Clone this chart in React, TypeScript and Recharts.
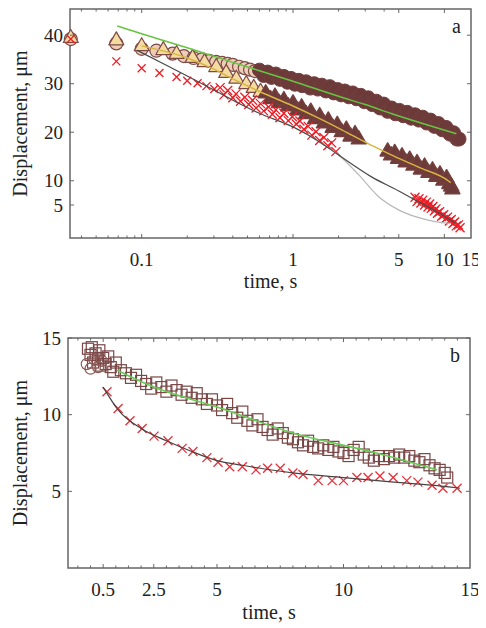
import React from 'react';
import { ComposedChart, Scatter, Line, XAxis, YAxis, ReferenceArea } from 'recharts';

type P = [number, number];
const pts = (a: P[]) => a.map(([t, v]) => ({ t, v }));

const FONT = '"Liberation Serif", "Times New Roman", serif';
const TXT = '#222';
const AX = '#666';

// ---------- panel a (log time axis) ----------
const aXMajor = [0.1, 1, 5, 10, 15];
const aXMinor = [0.04, 0.05, 0.06, 0.07, 0.08, 0.09, 0.2, 0.3, 0.4, 0.5, 0.6, 0.7, 0.8, 0.9, 2, 3, 4];
const aYTicks = [5, 10, 20, 30, 40];

const aCircOpen: P[] = [
  [0.034, 39.2], [0.068, 38.3], [0.1, 37.2], [0.125, 36.8], [0.16, 36.2], [0.19, 35.7], [0.22, 35.3],
  [0.25, 35.0], [0.28, 34.7], [0.31, 34.5], [0.34, 34.3], [0.37, 34.1], [0.4, 33.9], [0.44, 33.5],
  [0.48, 33.2], [0.52, 32.9], [0.56, 32.6],
];
const aCircDense: P[] = [
  [0.6, 32.8], [0.64, 31.7], [0.68, 32.4], [0.72, 31.3], [0.77, 32.0], [0.82, 30.9], [0.87, 31.5],
  [0.92, 30.3], [0.97, 31.1], [1.03, 29.9], [1.09, 30.7], [1.15, 29.6], [1.22, 30.4], [1.3, 29.1],
  [1.38, 30.0], [1.46, 28.9], [1.55, 29.7], [1.65, 28.5], [1.75, 29.4], [1.86, 28.1], [1.97, 28.8],
  [2.08, 27.7], [2.2, 28.5], [2.34, 27.3], [2.48, 28.1], [2.63, 26.9], [2.8, 27.6], [2.96, 26.3],
  [3.14, 27.1], [3.34, 25.7], [3.55, 26.4], [3.76, 25.0], [3.98, 25.8], [4.22, 24.3], [4.48, 25.0],
  [4.75, 23.8], [5.05, 24.5], [5.35, 23.4], [5.68, 24.1], [6.03, 22.9], [6.4, 23.6], [6.79, 22.5],
  [7.2, 23.1], [7.64, 21.9], [8.1, 22.5], [8.6, 21.2], [9.13, 21.8], [9.68, 20.5], [10.27, 21.0],
  [10.9, 19.6], [11.5, 19.9], [12.1, 18.6], [12.5, 18.6],
];
const aTriOpen: P[] = [
  [0.034, 39.4], [0.068, 38.9], [0.1, 37.7], [0.139, 36.9], [0.17, 36.1], [0.217, 35.3], [0.26, 34.4],
  [0.311, 33.4], [0.362, 32.2], [0.422, 31.0], [0.491, 29.9], [0.55, 29.1], [0.61, 28.3],
];
const aTriDense: P[] = [
  [0.66, 28.0], [0.71, 26.8], [0.76, 27.3], [0.81, 26.0], [0.87, 26.6], [0.93, 25.3], [1.0, 25.9],
  [1.07, 24.5], [1.14, 25.1], [1.22, 23.7], [1.31, 24.2], [1.4, 22.7], [1.5, 23.3], [1.6, 21.8],
  [1.71, 22.4], [1.83, 20.9], [1.96, 21.5], [2.1, 20.0], [2.25, 20.5], [2.4, 19.1], [2.57, 19.6],
  [2.72, 18.5],
  [4.22, 16.0], [4.45, 15.2], [4.7, 15.7], [4.95, 14.5], [5.25, 15.0], [5.55, 13.8], [5.9, 14.3],
  [6.25, 13.1], [6.6, 13.6], [7.0, 12.3], [7.4, 12.9], [7.85, 11.6], [8.35, 12.1], [8.85, 10.8],
  [9.35, 11.3], [9.85, 10.0], [10.35, 10.5], [10.8, 9.3], [11.1, 8.8], [11.3, 8.2],
];
const aCrossOpen: P[] = [
  [0.034, 39.2], [0.068, 34.6], [0.1, 33.2], [0.131, 32.2], [0.17, 31.4], [0.2, 30.6], [0.234, 30.1],
  [0.268, 29.5], [0.302, 28.9],
];
const aCrossDense: P[] = [
  [0.33, 29.2], [0.35, 27.7], [0.37, 28.6], [0.4, 27.1], [0.42, 27.9], [0.45, 26.4], [0.48, 27.2],
  [0.51, 25.7], [0.54, 26.6], [0.57, 25.0], [0.61, 25.9], [0.64, 24.4], [0.69, 25.2], [0.73, 23.7],
  [0.77, 24.6], [0.82, 23.0], [0.87, 23.9], [0.93, 22.4], [0.99, 23.2], [1.05, 21.7], [1.11, 22.3],
  [1.18, 20.6], [1.26, 21.2], [1.33, 19.4], [1.42, 20.1], [1.5, 18.3], [1.6, 18.9], [1.7, 17.2],
  [1.8, 17.8], [1.92, 16.0],
];
const aCrossLate: P[] = [
  [6.4, 6.6], [6.6, 5.7], [6.8, 6.3], [7.0, 5.4], [7.2, 6.0], [7.4, 5.0], [7.6, 5.6], [7.8, 4.6],
  [8.0, 5.2], [8.2, 4.3], [8.4, 4.7], [8.6, 3.8], [8.8, 4.2], [9.0, 3.3], [9.3, 3.6], [9.6, 2.7],
  [9.9, 3.0], [10.2, 2.2], [10.5, 2.5], [10.8, 1.7], [11.1, 2.0], [11.4, 1.2], [11.7, 1.5], [12.0, 0.7],
  [12.4, 0.9], [12.7, 0.3],
];
const aFitGreen: P[] = [
  [0.069, 41.9], [0.1, 40.3], [0.2, 37.4], [0.4, 34.4], [1.0, 30.5], [2.0, 27.4], [3.0, 25.7],
  [4.5, 23.8], [7.0, 21.9], [12.0, 19.7],
];
const aFitGold: P[] = [
  [0.1, 37.8], [0.2, 35.3], [0.3, 33.0], [0.4, 31.0], [0.6, 28.4], [1.0, 25.4], [1.5, 22.8],
  [2.1, 20.5], [3.16, 17.6], [3.85, 16.3], [5.0, 14.6], [7.0, 12.6], [10.6, 10.0], [11.0, 9.6],
];
const aFitDark: P[] = [
  [0.093, 36.9], [0.15, 33.6], [0.2, 31.6], [0.3, 28.7], [0.4, 26.6], [0.6, 23.9], [1.0, 21.1],
  [1.5, 18.0], [2.0, 15.3], [3.3, 10.8], [5.0, 7.9], [6.45, 6.0], [8.7, 3.8], [11.8, 1.3],
];
const aFitLight: P[] = [
  [1.5, 18.0], [2.0, 15.3], [2.72, 11.2], [3.68, 6.7], [4.98, 4.0], [7.8, 1.9], [10.1, 1.3], [11.0, 1.2],
];

// ---------- panel b (linear time axis) ----------
const bXMajor = [0.5, 2.5, 5, 10, 15];
const bXMinor = [-0.5, 0, 1, 1.5, 2, 3, 3.5, 4, 4.5, 5.5, 6, 6.5, 7, 7.5, 8, 8.5, 9, 9.5, 10.5, 11, 11.5, 12, 12.5, 13, 13.5, 14, 14.5];
const bYTicks = [5, 10, 15];

const bSquares: P[] = [
  [-0.1, 14.3], [0.0, 13.9], [0.05, 14.4], [0.1, 13.4], [0.2, 14.0], [0.3, 13.6], [0.35, 14.2], [0.4, 13.2],
  [0.5, 13.7], [0.6, 13.3], [0.7, 13.8], [0.8, 13.1], [0.9, 12.8], [1.0, 13.4], [1.2, 12.9], [1.4, 12.7],
  [1.6, 12.4], [1.8, 12.6], [2.0, 12.2], [2.2, 12.0], [2.4, 11.7], [2.6, 12.1], [2.8, 11.8], [3.0, 11.5],
  [3.2, 11.9], [3.4, 11.6], [3.6, 11.3], [3.8, 11.5], [4.0, 11.1], [4.2, 11.4], [4.4, 11.0], [4.6, 10.7],
  [4.8, 11.0], [5.0, 10.6], [5.2, 10.3], [5.4, 10.7], [5.6, 10.1], [5.8, 9.8], [6.0, 10.2], [6.2, 9.6],
  [6.4, 9.3], [6.6, 9.7], [6.8, 9.2], [7.0, 9.0], [7.2, 8.7], [7.4, 9.1], [7.6, 8.8], [7.8, 8.5],
  [8.0, 8.4], [8.2, 8.2], [8.4, 8.0], [8.6, 8.3], [8.8, 7.9], [9.0, 7.8], [9.2, 8.0], [9.4, 7.7],
  [9.6, 7.9], [9.8, 7.6], [10.0, 7.5], [10.2, 7.3], [10.4, 7.7], [10.6, 7.9], [10.8, 7.4], [11.0, 7.2],
  [11.2, 7.0], [11.4, 7.3], [11.6, 7.1], [11.8, 7.3], [12.0, 7.2], [12.2, 7.4], [12.4, 7.2], [12.6, 7.3],
  [12.8, 7.0], [13.0, 6.9], [13.2, 7.1], [13.4, 6.7], [13.6, 6.5], [13.8, 6.4], [14.0, 6.2], [14.1, 5.9],
];
const bCircles: P[] = [[-0.15, 13.3], [0.0, 13.0], [0.15, 13.6], [0.3, 13.1], [0.45, 13.5]];
const bCrosses: P[] = [
  [0.65, 11.5], [1.09, 10.4], [1.56, 9.6], [2.04, 9.1], [2.51, 8.6], [3.06, 8.3], [3.62, 7.8], [4.05, 7.6],
  [4.6, 7.2], [5.04, 6.9], [5.5, 6.6], [6.0, 6.6], [6.54, 6.4], [7.0, 6.5], [7.5, 6.5], [8.0, 6.2],
  [8.4, 6.1], [9.0, 5.7], [9.55, 5.7], [10.0, 5.7], [10.53, 5.9], [10.97, 5.9], [11.44, 6.0], [11.96, 5.9],
  [12.5, 5.7], [12.94, 5.6], [13.5, 5.4], [13.93, 5.2], [14.49, 5.2],
];
const bFitDark: P[] = [
  [0.5, 11.8], [1.1, 10.3], [2, 9.1], [3, 8.3], [4, 7.6], [5, 7.0], [6, 6.7], [8, 6.2], [10, 5.9],
  [12, 5.6], [13.5, 5.4], [14.6, 5.2],
];
const bFitGreen: P[] = [[1.05, 12.9], [2.5, 11.8], [5, 10.5], [8, 8.8], [11.3, 7.5], [13.7, 6.4]];

// ---------- shapes ----------
const circleShape = (r: number, fill: string, stroke: string, sw: number) => (p: any) =>
  p.cx == null ? <g /> : <circle cx={p.cx} cy={p.cy} r={r} fill={fill} stroke={stroke} strokeWidth={sw} />;
const triShape = (s: number, fill: string, stroke: string, sw: number) => (p: any) => {
  if (p.cx == null) return <g />;
  const h = s * 0.866;
  const d = `${p.cx},${p.cy - (2 * h) / 3} ${p.cx - s / 2},${p.cy + h / 3} ${p.cx + s / 2},${p.cy + h / 3}`;
  return <polygon points={d} fill={fill} stroke={stroke} strokeWidth={sw} strokeLinejoin="round" />;
};
const crossShape = (s: number, stroke: string, sw: number) => (p: any) => {
  if (p.cx == null) return <g />;
  const a = s / 2;
  return (
    <path
      d={`M${p.cx - a},${p.cy - a}L${p.cx + a},${p.cy + a}M${p.cx - a},${p.cy + a}L${p.cx + a},${p.cy - a}`}
      stroke={stroke}
      strokeWidth={sw}
      fill="none"
    />
  );
};
const squareShape = (s: number, stroke: string, sw: number) => (p: any) =>
  p.cx == null ? <g /> : (
    <rect x={p.cx - s / 2} y={p.cy - s / 2} width={s} height={s} fill="none" stroke={stroke} strokeWidth={sw} />
  );

// ---------- ticks ----------
const makeXTick = (majors: number[], ph: number, noLine: number[]) => (props: any) => {
  const { x, y, payload } = props;
  const val = payload?.value;
  const major = majors.indexOf(val) >= 0;
  const len = major ? 4 : 2.5;
  const draw = noLine.indexOf(val) < 0;
  return (
    <g>
      {draw && <line x1={x} y1={y} x2={x} y2={y - len} stroke={AX} strokeWidth={1} />}
      {draw && <line x1={x} y1={y - ph} x2={x} y2={y - ph + len} stroke={AX} strokeWidth={1} />}
      {major && (
        <text x={x} y={y + 28} textAnchor="middle" fontFamily={FONT} fontSize={19} fill={TXT}>
          {String(val)}
        </text>
      )}
    </g>
  );
};
const makeYTick = (pw: number) => (props: any) => {
  const { x, y, payload } = props;
  return (
    <g>
      <line x1={x} y1={y} x2={x + 4} y2={y} stroke={AX} strokeWidth={1} />
      <line x1={x + pw} y1={y} x2={x + pw - 4} y2={y} stroke={AX} strokeWidth={1} />
      <text x={x - 7} y={y + 6.5} textAnchor="end" fontFamily={FONT} fontSize={19} fill={TXT}>
        {String(payload?.value)}
      </text>
    </g>
  );
};

const labelStyle = { fontFamily: FONT, fontSize: 20, fill: TXT };

const A_X: [number, number] = [0.0336, 15];
const A_Y: [number, number] = [-1.8, 45.4];
const B_X: [number, number] = [-0.89, 15];
const B_Y: [number, number] = [0, 15];

const BROWN = '#6d3a3a';
const BROWN_EDGE = '#7e4a46';
const RED = '#ec1c24';

export default function App() {
  return (
    <div style={{ width: 478 }}>
      <ComposedChart width={478} height={300} margin={{ top: 1, right: 15, bottom: 0, left: 0 }}>
        <XAxis
          type="number"
          dataKey="t"
          scale="log"
          domain={A_X}
          ticks={[...aXMinor, ...aXMajor]}
          interval={0}
          height={70}
          tickSize={0}
          tickMargin={0}
          axisLine={false}
          tickLine={false}
          tick={makeXTick(aXMajor, 229, [15])}
          label={{ value: 'time, s', position: 'insideBottom', offset: 20, style: labelStyle }}
        />
        <YAxis
          type="number"
          dataKey="v"
          domain={A_Y}
          ticks={aYTicks}
          interval={0}
          width={62}
          tickSize={0}
          tickMargin={0}
          axisLine={false}
          tickLine={false}
          tick={makeYTick(401)}
          label={{ value: 'Displacement, μm', angle: -90, position: 'insideLeft', offset: 12, style: { ...labelStyle, textAnchor: 'middle' } }}
        />
        <ReferenceArea
          x1={A_X[0]} x2={A_X[1]} y1={A_Y[0]} y2={A_Y[1]}
          fill="none" fillOpacity={0} stroke={AX} strokeWidth={1.5} ifOverflow="visible"
          label={{ value: 'a', position: 'insideTopRight', offset: 10, style: labelStyle }}
        />
        <Scatter data={pts(aCircOpen)} dataKey="v" isAnimationActive={false} shape={circleShape(6.5, '#eccdb8', BROWN_EDGE, 1.2)} />
        <Scatter data={pts(aCircDense)} dataKey="v" isAnimationActive={false} shape={circleShape(7, BROWN, '#74403e', 1)} />
        <Scatter data={pts(aTriOpen)} dataKey="v" isAnimationActive={false} shape={triShape(15, '#f4dca0', BROWN_EDGE, 1.2)} />
        <Scatter data={pts(aTriDense)} dataKey="v" isAnimationActive={false} shape={triShape(15, BROWN, '#74403e', 1.5)} />
        <Scatter data={pts(aCrossOpen)} dataKey="v" isAnimationActive={false} shape={crossShape(8, RED, 1.3)} />
        <Scatter data={pts(aCrossDense)} dataKey="v" isAnimationActive={false} shape={crossShape(9, RED, 1.3)} />
        <Scatter data={pts(aCrossLate)} dataKey="v" isAnimationActive={false} shape={crossShape(9, RED, 1.3)} />
        <Line data={pts(aFitLight)} dataKey="v" type="monotone" stroke="#b8b8b8" strokeWidth={1.2} dot={false} isAnimationActive={false} zIndex={700} />
        <Line data={pts(aFitDark)} dataKey="v" type="monotone" stroke="#4a4a4a" strokeWidth={1.2} dot={false} isAnimationActive={false} zIndex={700} />
        <Line data={pts(aFitGold)} dataKey="v" type="monotone" stroke="#d8b440" strokeWidth={1.5} dot={false} isAnimationActive={false} zIndex={700} />
        <Line data={pts(aFitGreen)} dataKey="v" type="monotone" stroke="#66c440" strokeWidth={1.5} dot={false} isAnimationActive={false} zIndex={700} />
      </ComposedChart>

      <ComposedChart width={478} height={316} margin={{ top: 30, right: 16, bottom: 0, left: 0 }}>
        <XAxis
          type="number"
          dataKey="t"
          domain={B_X}
          ticks={[...bXMinor, ...bXMajor]}
          interval={0}
          height={56}
          tickSize={0}
          tickMargin={0}
          axisLine={false}
          tickLine={false}
          tick={makeXTick(bXMajor, 230, [15])}
          label={{ value: 'time, s', position: 'insideBottom', offset: 5, style: labelStyle }}
        />
        <YAxis
          type="number"
          dataKey="v"
          domain={B_Y}
          ticks={bYTicks}
          interval={0}
          width={60}
          tickSize={0}
          tickMargin={0}
          axisLine={false}
          tickLine={false}
          tick={makeYTick(402)}
          label={{ value: 'Displacement, μm', angle: -90, position: 'insideLeft', offset: 12, style: { ...labelStyle, textAnchor: 'middle' } }}
        />
        <ReferenceArea
          x1={B_X[0]} x2={B_X[1]} y1={B_Y[0]} y2={B_Y[1]}
          fill="none" fillOpacity={0} stroke={AX} strokeWidth={1.5} ifOverflow="visible"
          label={{ value: 'b', position: 'insideTopRight', offset: 10, style: labelStyle }}
        />
        <Scatter data={pts(bSquares)} dataKey="v" isAnimationActive={false} shape={squareShape(11, '#7a4646', 1.2)} />
        <Scatter data={pts(bCircles)} dataKey="v" isAnimationActive={false} shape={circleShape(5.5, 'none', '#8a5a55', 1.2)} />
        <Scatter data={pts(bCrosses)} dataKey="v" isAnimationActive={false} shape={crossShape(9, '#e8303a', 1.3)} />
        <Line data={pts(bFitDark)} dataKey="v" type="monotone" stroke="#444" strokeWidth={1.2} dot={false} isAnimationActive={false} zIndex={700} />
        <Line data={pts(bFitGreen)} dataKey="v" type="monotone" stroke="#66cc55" strokeWidth={1.6} dot={false} isAnimationActive={false} zIndex={700} />
      </ComposedChart>
    </div>
  );
}
